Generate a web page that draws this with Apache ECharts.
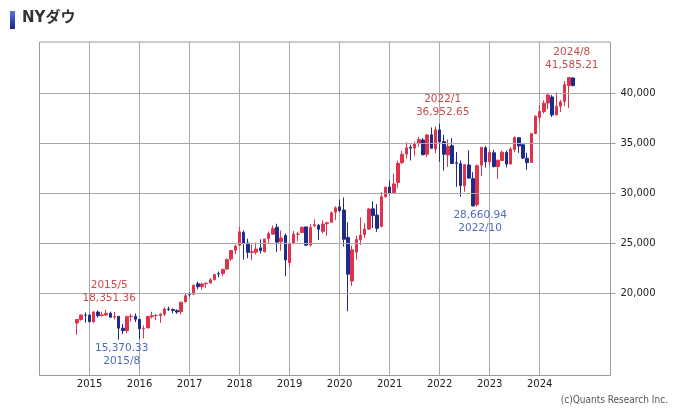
<!DOCTYPE html>
<html><head><meta charset="utf-8">
<script src="https://cdn.jsdelivr.net/npm/echarts@6/dist/echarts.min.js"></script>
<style>html,body{margin:0;padding:0;background:#fff}#c{width:675px;height:408px}</style>
</head><body><div id="c"></div>
<script>
const months = [
'2014/10','2014/11','2014/12',
'2015/1','2015/2','2015/3','2015/4','2015/5','2015/6','2015/7','2015/8','2015/9','2015/10','2015/11','2015/12',
'2016/1','2016/2','2016/3','2016/4','2016/5','2016/6','2016/7','2016/8','2016/9','2016/10','2016/11','2016/12',
'2017/1','2017/2','2017/3','2017/4','2017/5','2017/6','2017/7','2017/8','2017/9','2017/10','2017/11','2017/12',
'2018/1','2018/2','2018/3','2018/4','2018/5','2018/6','2018/7','2018/8','2018/9','2018/10','2018/11','2018/12',
'2019/1','2019/2','2019/3','2019/4','2019/5','2019/6','2019/7','2019/8','2019/9','2019/10','2019/11','2019/12',
'2020/1','2020/2','2020/3','2020/4','2020/5','2020/6','2020/7','2020/8','2020/9','2020/10','2020/11','2020/12',
'2021/1','2021/2','2021/3','2021/4','2021/5','2021/6','2021/7','2021/8','2021/9','2021/10','2021/11','2021/12',
'2022/1','2022/2','2022/3','2022/4','2022/5','2022/6','2022/7','2022/8','2022/9','2022/10','2022/11','2022/12',
'2023/1','2023/2','2023/3','2023/4','2023/5','2023/6','2023/7','2023/8','2023/9','2023/10','2023/11','2023/12',
'2024/1','2024/2','2024/3','2024/4','2024/5','2024/6','2024/7','2024/8','2024/9'];
const openP = [
17040,17391,17828,
17823,17170,18134,17779,17841,18018,17638,17708,16528,16279,17673,17720,
17405,16454,16546,17662,17784,17789,17924,18434,18397,18280,18158,19149,
19873,19924,20957,20665,20963,21031,21392,21961,21982,22423,23443,24305,
24809,26083,25024,24077,24117,24542,24162,25462,25916,26598,25151,25780,
23059,25000,25911,26075,26640,24820,26763,26799,26198,26963,27098,28110,
28639,28320,25591,21227,24121,25343,25879,26420,28440,27817,26689,29665,
30627,30055,31066,33055,33905,34584,34507,35011,35313,33894,35834,34424,
36322,35153,33821,34741,33051,32955,30737,32823,31455,28856,32801,34534,
33149,34039,32656,33274,34065,32914,34368,35536,34838,33488,33072,35968,
37566,38146,39011,39614,37818,38691,39170,40731,41507];
const highP = [
17396,17895,18103,
17952,18244,18289,18176,18351.36,18169,18137,17709,16933,17800,17978,17996,
17405,16796,17755,18168,17935,18016,18622,18668,18496,18400,19152,19988,
20126,20851,21169,21071,21112,21535,21930,22179,22420,23485,24328,24876,
26617,26307,25449,24859,25086,25403,25462,26168,26769,26952,26278,25980,
25075,26241,26156,26696,26668,26907,27399,26928,27306,27155,28175,28702,
29374,29569,27102,24765,25758,27580,27000,28503,29199,28902,30117,30637,
31272,31962,33259,34257,35092,34849,35172,35631,35510,35893,36566,36679,
36952.65,35824,35372,35492,34117,33272,32899,34281,32102,32889,34595,34712,
34342,34335,33399,34258,34258,34589,35679,35579,34977,34040,36026,37779,
38784,39282,39889,39807,40077,39311,41198,41585.21,41579];
const lowP = [
15855,17278,17068,
17136,17038,17585,17686,17734,17576,17399,15370.33,15942,16014,17187,17129,
15451,15503,16546,17484,17331,17063,17713,18248,18015,17960,17884,19149,
19678,19831,20413,20380,20553,20994,21279,21600,21710,22416,23243,23922,
24742,23360,23509,23345,23885,23997,24078,25013,25878,24122,24268,21713,
22638,24883,25208,26050,24800,24681,26622,25340,25978,25743,27049,27325,
28170,24681,18214,20735,23362,24843,25524,26348,26537,26144,26597,29534,
29856,30055,30548,32911,33474,33272,33742,34621,33785,33613,34450,34007,
33150,32273,32633,32913,30636,29653,30144,31450,28716,28660.94,31727,32573,
32812,32581,31430,33235,32587,32869,34092,34029,33418,32327,33015,35889,
37123,37962,38402,37612,37791,38104,38709,38499,40671];
const closeP = [
17391,17828,17823,
17165,18133,17776,17841,18011,17620,17690,16528,16285,17664,17720,17425,
16466,16517,17685,17774,17787,17930,18432,18401,18308,18142,19124,19763,
19864,20812,20663,20941,21009,21350,21891,21948,22405,23377,24272,24719,
26149,25029,24103,24163,24416,24271,25415,25965,26458,25116,25538,23327,
25000,25916,25929,26593,24815,26600,26864,26403,26917,27046,28051,28538,
28256,25409,21917,24346,25383,25813,26428,28430,27782,26502,29639,30606,
29983,30932,32982,33875,34529,34503,34935,35361,33844,35820,34484,36338,
35132,33893,34678,32977,32990,30775,32845,31510,28726,32733,34590,33147,
34086,32657,33274,34098,32908,34408,35560,34722,33508,33053,35951,37690,
38150,38996,39807,37816,38686,39119,40843,41563,40756];
const yTicks = [20000, 25000, 30000, 35000, 40000];
const yearLabels = ['2015','2016','2017','2018','2019','2020','2021','2022','2023','2024'];
const annotations = [
  {month:'2015/5', kind:'high'}, {month:'2015/8', kind:'low'},
  {month:'2022/1', kind:'high'}, {month:'2022/10', kind:'low'},
  {month:'2024/8', kind:'high'}];

const FONT = 'DejaVu Sans';
const UP = '#e1324b', DOWN = '#1f2b8a';

// axis categories: Jan 2014 .. Jun 2025 (monthly)
const axisCats = [];
for (let y = 2014; y <= 2025; y++) for (let m = 1; m <= 12; m++) {
  if (y === 2025 && m > 6) break;
  axisCats.push(y + '/' + m);
}
const candle = axisCats.map(c => {
  const i = months.indexOf(c);
  return i < 0 ? '-' : [openP[i], closeP[i], lowP[i], highP[i]];
});
const isYearMark = (idx) => {
  const c = axisCats[idx]; const [y, m] = c.split('/');
  return m === '1' && yearLabels.indexOf(y) >= 0;
};
const fmt = v => v.toLocaleString('en-US', {minimumFractionDigits: 2, maximumFractionDigits: 2});
const markData = annotations.map(a => {
  const i = months.indexOf(a.month);
  const v = a.kind === 'high' ? highP[i] : lowP[i];
  const hi = a.kind === 'high';
  return {
    coord: [a.month, v], value: v,
    label: {
      show: true,
      position: hi ? 'top' : 'bottom',
      distance: hi ? 5 : 2,
      offset: [3, 0],
      color: hi ? '#c94b4b' : '#4c6cbf',
      fontFamily: FONT, fontSize: 10.5, lineHeight: 13,
      formatter: hi ? (a.month + '\n' + fmt(v)) : (fmt(v) + '\n' + a.month)
    }
  };
});

const chart = echarts.init(document.getElementById('c'), null, {renderer: 'canvas'});
chart.setOption({
  animation: false,
  backgroundColor: '#fff',
  grid: {left: 39.5, right: 64.5, top: 42, bottom: 32.5, show: true, borderColor: '#9a9a9a', borderWidth: 1, backgroundColor: 'transparent'},
  xAxis: {
    type: 'category', data: axisCats, boundaryGap: false,
    axisLine: {show: false}, axisTick: {show: false},
    axisLabel: {interval: (i) => isYearMark(i), formatter: v => v.split('/')[0], color: '#222', fontFamily: FONT, fontSize: 10, margin: 4},
    splitLine: {show: true, interval: (i) => isYearMark(i), lineStyle: {color: '#a8a8a8', width: 1}}
  },
  yAxis: {
    type: 'value', position: 'right', min: 11800, max: 45100, scale: true,
    axisLine: {show: false},
    axisTick: {show: true, length: 5, customValues: yTicks, lineStyle: {color: '#9a9a9a'}},
    axisLabel: {customValues: yTicks, color: '#222', fontFamily: FONT, fontSize: 10, margin: 10,
      formatter: v => v.toLocaleString('en-US')},
    splitLine: {show: false}
  },
  series: [{
    type: 'candlestick', data: candle, barWidth: 3,
    itemStyle: {color: UP, color0: DOWN, borderColor: UP, borderColor0: DOWN, borderWidth: 1},
    markLine: {
      silent: true, symbol: 'none', animation: false,
      label: {show: false},
      lineStyle: {color: '#a8a8a8', width: 1, type: 'solid'},
      emphasis: {disabled: true},
      data: yTicks.map(v => ({yAxis: v}))
    },
    markPoint: {
      symbol: 'circle', symbolSize: 0, silent: true, animation: false,
      data: markData
    }
  }],
  graphic: [
    {type: 'rect', left: 10, top: 11, shape: {width: 5, height: 18},
     style: {fill: new echarts.graphic.LinearGradient(0, 0, 0, 1, [{offset: 0, color: '#5d74d6'}, {offset: 0.55, color: '#3347b0'}, {offset: 1, color: '#1a2580'}])}},
    {type: 'text', left: 22, top: 11, style: {text: 'NYダウ', font: 'bold 15px "DejaVu Sans", "Noto Sans CJK JP"', fill: '#333'}},
    {type: 'text', right: 7, bottom: 3, style: {text: '(c)Quants Research Inc.', font: '10px "DejaVu Sans Condensed", "DejaVu Sans"', fill: '#555'}}
  ]
});
</script></body></html>
